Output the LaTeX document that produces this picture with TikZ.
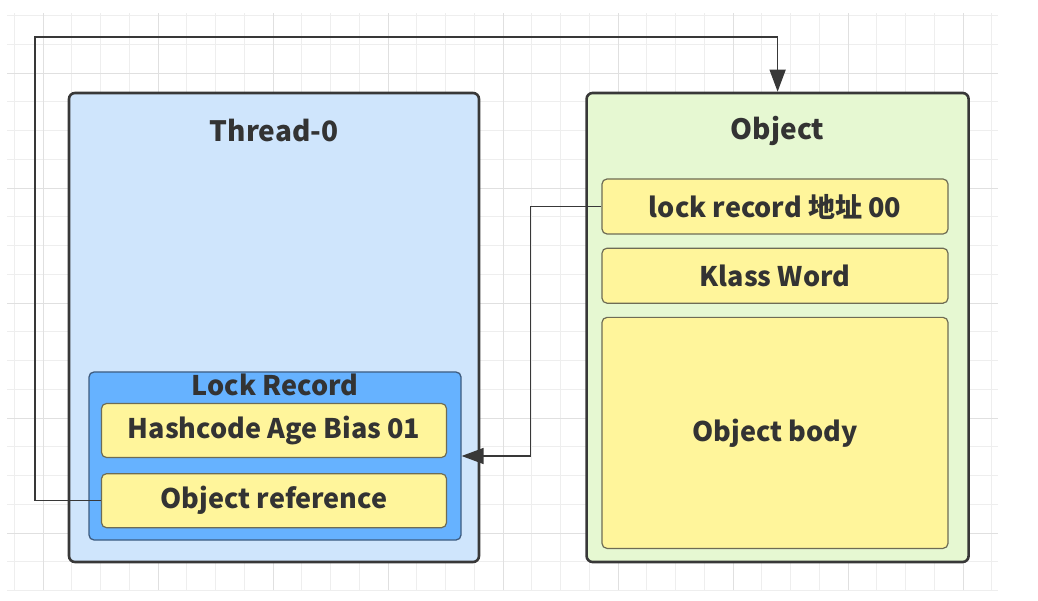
\documentclass[tikz,border=0pt]{standalone}
\usepackage{fontspec}
\setmainfont{Noto Sans CJK SC}
\usetikzlibrary{positioning,arrows.meta}

\definecolor{threadfill}{HTML}{CFE5FC}
\definecolor{objfill}{HTML}{E6F8D2}
\definecolor{lockfill}{HTML}{66B2FF}
\definecolor{cellfill}{HTML}{FFF59B}
\definecolor{celledge}{HTML}{6E6C55}
\definecolor{lockedge}{HTML}{3E5C80}
\definecolor{boxedge}{HTML}{383838}
\definecolor{txt}{HTML}{333333}
\definecolor{gridminor}{HTML}{EEEEEE}
\definecolor{gridmajor}{HTML}{E0E0E0}

\begin{document}
\begin{tikzpicture}[
    x=1pt, y=1pt,
    outer/.style={draw=boxedge, line width=2.6pt, rounded corners=6pt, inner sep=0pt, minimum height=469pt},
    lockbox/.style={draw=lockedge, fill=lockfill, line width=1.3pt, rounded corners=5pt, inner sep=0pt, minimum width=372pt, minimum height=168pt},
    cell/.style={draw=celledge, fill=cellfill, line width=1.2pt, rounded corners=5pt, inner sep=0pt, minimum width=345pt, minimum height=54pt, text=txt, font=\fontsize{27}{32}\selectfont\bfseries},
    title/.style={inner sep=0pt, text=txt, font=\fontsize{28}{33}\selectfont\bfseries},
    arrow/.style={draw=boxedge, line width=1.4pt, -{Triangle[length=22pt,width=16pt]}}
]
\useasboundingbox (0,0) rectangle (1038,600);

% grid
\foreach \i in {0,...,34} \draw[gridminor, line width=0.8pt] ({14.25+28.75*\i},10) -- ++(0,577);
\foreach \i in {0,...,20} \draw[gridminor, line width=0.8pt] (7,{584.5-28.75*\i}) -- ++(991,0);
\foreach \i in {0,...,8} \draw[gridmajor, line width=0.9pt] ({43+115*\i},10) -- ++(0,577);
\foreach \i in {0,...,4} \draw[gridmajor, line width=0.9pt] (7,{527-115*\i}) -- ++(991,0);

% thread side
\node[outer, fill=threadfill, minimum width=410pt] (thread) at (274,272.5) {};
\node[title] (threadtitle) at ([yshift=-39pt]thread.north) {Thread-0};
\node[lockbox] (lockrec) at (275,144) {};
\node[title, font=\fontsize{27}{32}\selectfont\bfseries] (locktitle) at ([yshift=-14pt]lockrec.north) {Lock Record};
\node[cell] (hash) at (274,169.5) {Hashcode Age Bias 01};
\node[cell, below=15pt of hash] (objref) {Object reference};

% object side
\node[outer, fill=objfill, minimum width=382pt, right=105pt of thread] (object) {};
\node[title] (objtitle) at ([yshift=-39pt]object.north) {Object};
\node[cell, minimum width=346pt, minimum height=55pt] (lockaddr) at (775,393.5) {lock record 地址 00};
\node[cell, minimum width=346pt, minimum height=55pt, below=13pt of lockaddr] (klass) {Klass Word};
\node[cell, minimum width=346pt, minimum height=231pt, below=13pt of klass] (body) {Object body};

% pointers
\coordinate (loopcorner) at (35,563);
\draw[arrow] (objref.west) -| (loopcorner) -| (object.north);
\draw[arrow] (lockaddr.west) -- ++(-71,0) |- (lockrec.east);
\end{tikzpicture}
\end{document}
